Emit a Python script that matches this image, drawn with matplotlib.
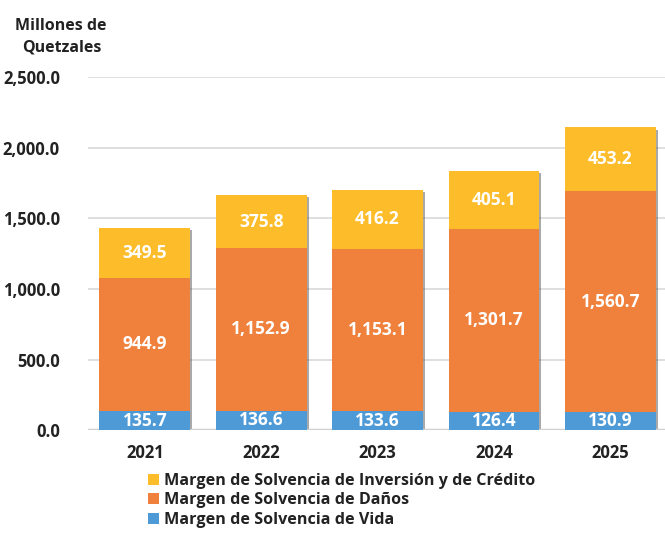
import matplotlib.pyplot as plt
import matplotlib.patheffects as pe
import numpy as np

years = ['2021', '2022', '2023', '2024', '2025']
vida = [135.7, 136.6, 133.6, 126.4, 130.9]
danos = [944.9, 1152.9, 1153.1, 1301.7, 1560.7]
inversion = [349.5, 375.8, 416.2, 405.1, 453.2]

plt.rcParams['font.family'] = ['Open Sans', 'DejaVu Sans']
plt.rcParams['font.weight'] = 'bold'

fig = plt.figure(figsize=(6.65, 5.33), dpi=100)
ax = fig.add_axes([0.132, 0.193, 0.868, 0.662])

x = np.arange(len(years))
w = 0.78
totals = np.array(vida) + np.array(danos) + np.array(inversion)

# shadow behind the whole stack
sh = ax.bar(x, totals, w, color='#888888', zorder=2)
for p in sh:
    p.set_path_effects([pe.SimplePatchShadow(offset=(1.5, -1.5), shadow_rgbFace='#555555', alpha=0.5)])
    p.set_alpha(0)

b1 = ax.bar(x, vida, w, color='#4E9AD6', label='Margen de Solvencia de Vida', zorder=3)
b2 = ax.bar(x, danos, w, bottom=vida, color='#F0813C', label='Margen de Solvencia de Daños', zorder=3)
bottom3 = np.array(vida) + np.array(danos)
b3 = ax.bar(x, inversion, w, bottom=bottom3, color='#FDBD2A',
            label='Margen de Solvencia de Inversión y de Crédito', zorder=3)

# value labels
for i in range(len(years)):
    ax.text(x[i], vida[i] / 2, f'{vida[i]:,.1f}', ha='center', va='center',
            color='white', fontsize=12.5, fontweight='bold', zorder=5)
    ax.text(x[i], vida[i] + danos[i] / 2, f'{danos[i]:,.1f}', ha='center', va='center',
            color='white', fontsize=12.5, fontweight='bold', zorder=5)
    ax.text(x[i], bottom3[i] + inversion[i] / 2, f'{inversion[i]:,.1f}', ha='center', va='center',
            color='white', fontsize=12.5, fontweight='bold', zorder=5)

ax.set_xlim(-0.49, 4.47)
ax.set_ylim(0, 2500)
ax.set_yticks(np.arange(0, 2501, 500))
ax.set_yticklabels([f'{v:,.1f}' for v in np.arange(0, 2501, 500)])
ax.set_xticks(x)
ax.set_xticklabels(years)
ax.tick_params(axis='both', length=0, labelsize=12, colors='#222222')
ax.tick_params(axis='y', pad=20)
ax.tick_params(axis='x', pad=10)
ax.grid(axis='y', color='#D9D9D9', linewidth=1.2, zorder=0)
for s in ax.spines.values():
    s.set_visible(False)
ax.axhline(0, color='#D0D0D0', linewidth=2.5, zorder=2)

fig.text(0.023, 0.951, 'Millones de', fontsize=11.5, fontweight='bold', color='#222222', va='center')
fig.text(0.033, 0.910, 'Quetzales', fontsize=11.5, fontweight='bold', color='#222222', va='center')

handles = [b3, b2, b1]
leg = fig.legend(handles, [h.get_label() for h in handles], loc='upper left',
                 bbox_to_anchor=(0.21, 0.128), frameon=False, fontsize=11.6,
                 handlelength=0.7, handleheight=0.7, handletextpad=0.3,
                 labelspacing=0.22, borderpad=0)
for t in leg.get_texts():
    t.set_color('#222222')

fig.savefig('out.png', dpi=100)
